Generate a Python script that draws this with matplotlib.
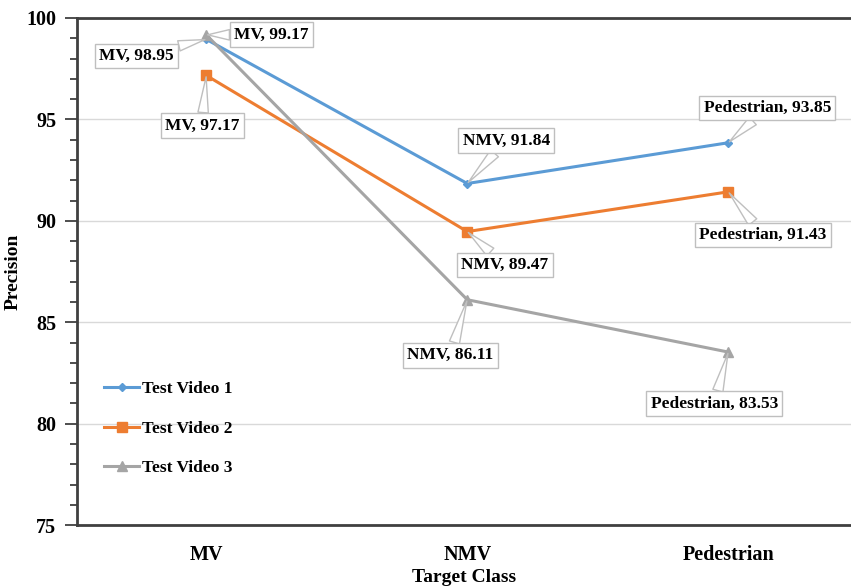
import matplotlib.pyplot as plt
from matplotlib.ticker import MultipleLocator

categories = ["MV", "NMV", "Pedestrian"]
video1 = [98.95, 91.84, 93.85]
video2 = [97.17, 89.47, 91.43]
video3 = [99.17, 86.11, 83.53]
series_names = ["Test Video 1", "Test Video 2", "Test Video 3"]

colors = ["#5B9BD5", "#ED7D31", "#A5A5A5"]
markers = ["D", "s", "^"]
msizes = [4, 7, 7]
# label offsets (points) for each series / category
offsets = [
    [(-50, -12), (28, 31), (28, 25)],
    [(-3, -36), (27, -24), (25, -31)],
    [(47, 0), (-12, -40), (-10, -37)],
]

plt.rcParams['font.family'] = ['Liberation Serif', 'DejaVu Serif']
plt.rcParams['font.weight'] = 'bold'

fig = plt.figure(figsize=(8.51, 5.88), dpi=100)
ax = fig.add_axes([0.0905, 0.107, 0.9095, 0.8624])

x = list(range(len(categories)))
for i, vals in enumerate([video1, video2, video3]):
    ax.plot(x, vals, color=colors[i], marker=markers[i], markersize=msizes[i],
            linewidth=2.2, label=series_names[i], zorder=3)
    for j, v in enumerate(vals):
        ax.annotate("%s, %.2f" % (categories[j], v), xy=(j, v),
                    xytext=offsets[i][j], textcoords='offset points',
                    ha='center', va='center', fontsize=12.5, fontweight='bold',
                    bbox=dict(boxstyle='square,pad=0.25', fc='white', ec='#BFBFBF', lw=1),
                    arrowprops=dict(arrowstyle='wedge,tail_width=0.6,shrink_factor=0.5',
                                    fc='white', ec='#BFBFBF', lw=1, shrinkA=0, shrinkB=1),
                    zorder=5)

ax.set_xlim(-0.495, 2.47)
ax.set_ylim(75, 100)
ax.set_xticks(x)
ax.set_xticklabels(categories, fontsize=14.5, fontweight='bold')
ax.yaxis.set_major_locator(MultipleLocator(5))
ax.yaxis.set_minor_locator(MultipleLocator(1))
ax.tick_params(axis='y', which='major', labelsize=14.5, length=9, width=1.3,
               color='#404040', pad=6)
ax.tick_params(axis='y', which='minor', length=5, width=1.3, color='#404040')
ax.tick_params(axis='x', length=0, pad=14)
ax.grid(axis='y', color='#D9D9D9', linewidth=1)
ax.set_axisbelow(True)

for s in ['left', 'bottom', 'top']:
    ax.spines[s].set_color('#404040')
    ax.spines[s].set_linewidth(2)
ax.spines['right'].set_visible(False)

ax.set_ylabel("Precision", fontsize=14, fontweight='bold')
ax.yaxis.set_label_coords(-0.071, 0.5)
ax.set_xlabel("Target Class", fontsize=14, fontweight='bold', labelpad=3)

ax.legend(loc='upper left', bbox_to_anchor=(0.015, 0.315), frameon=False,
          fontsize=12.5, labelspacing=1.35, handlelength=2.0, handletextpad=0.2)

plt.savefig("out.png")
plt.close()
